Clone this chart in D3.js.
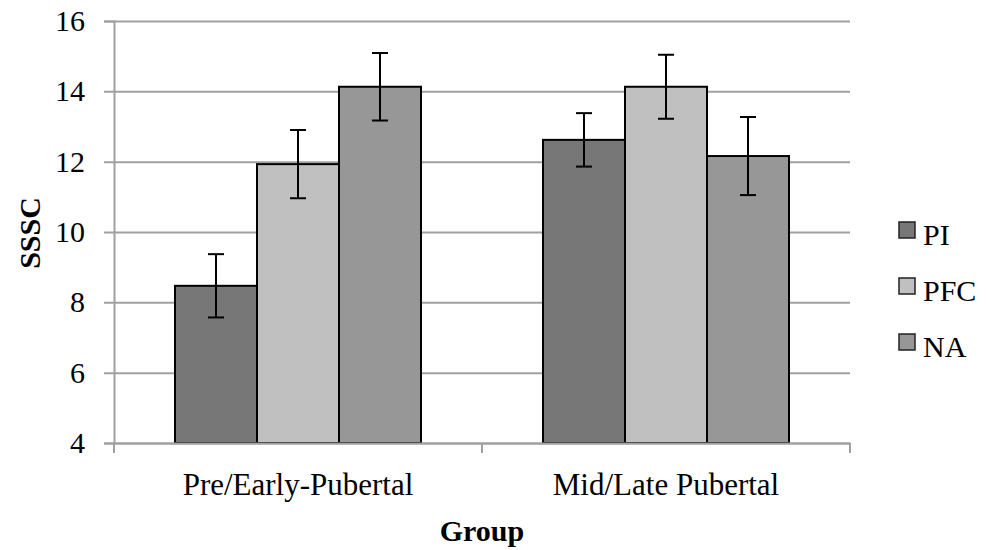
<!DOCTYPE html>
<html>
<head>
<meta charset="utf-8">
<script src="https://cdn.jsdelivr.net/npm/d3@7"></script>
<style>
  body { margin: 0; background: #fff; }
</style>
</head>
<body>
<svg id="chart" width="989" height="550"></svg>
<script>
// chart data
const groups = ['Pre/Early-Pubertal', 'Mid/Late Pubertal'];
const series = ['PI', 'PFC', 'NA'];
const colors = ['#777777', '#c0c0c0', '#979797'];
// mean values per group, in series order
const means = [
  [8.47, 11.93, 14.13],
  [12.62, 14.13, 12.16],
];
// error bar half-length per group
const errors = [
  [0.9, 0.97, 0.96],
  [0.76, 0.91, 1.11],
];
const yTicks = [4, 6, 8, 10, 12, 14, 16];

const FONT = '"Liberation Serif"';

const svg = d3.select('#chart');
const margin = { left: 114, right: 139, top: 21, bottom: 107 };
const width = 989 - margin.left - margin.right;
const height = 550 - margin.top - margin.bottom;

const g = svg.append('g').attr('transform', `translate(${margin.left},${margin.top})`);

const y = d3.scaleLinear().domain([4, 16]).range([height, 0]);
const x0 = d3.scaleBand().domain(groups).range([0, width]).padding(0);
const x1 = d3.scaleBand().domain(series).range([0, x0.bandwidth()])
  .paddingInner(0).paddingOuter(0.744);
const color = d3.scaleOrdinal().domain(series).range(colors);

// gridlines + y axis
const yAxis = g.append('g')
  .call(d3.axisLeft(y).tickValues(yTicks).tickSize(10).tickFormat(d3.format('d')));
yAxis.attr('font-family', null);
yAxis.select('.domain').attr('stroke', '#a0a0a0').attr('stroke-width', 2);
yAxis.selectAll('.tick line').attr('stroke', '#a0a0a0').attr('stroke-width', 2)
  .attr('x2', width).attr('x1', -10);
yAxis.selectAll('.tick text').attr('x', -29).attr('font-size', 30)
  .style('font-family', FONT).attr('fill', '#000');

// bars
const rows = [];
groups.forEach((grp, i) => {
  series.forEach((s, j) => {
    rows.push({ group: grp, key: s, value: means[i][j], err: errors[i][j] });
  });
});

const bars = g.append('g').selectAll('g')
  .data(rows)
  .join('g')
  .attr('transform', d => `translate(${x0(d.group) + x1(d.key)},0)`);

bars.append('rect')
  .attr('x', 0)
  .attr('y', d => y(d.value))
  .attr('width', x1.bandwidth())
  .attr('height', d => height - y(d.value))
  .attr('fill', d => color(d.key))
  .attr('stroke', '#000')
  .attr('stroke-width', 2);

// error bars
const cx = x1.bandwidth() / 2;
bars.append('line')
  .attr('x1', cx).attr('x2', cx)
  .attr('y1', d => y(d.value + d.err))
  .attr('y2', d => y(d.value - d.err))
  .attr('stroke', '#000').attr('stroke-width', 2);
bars.append('line')
  .attr('x1', cx - 8).attr('x2', cx + 8)
  .attr('y1', d => y(d.value + d.err)).attr('y2', d => y(d.value + d.err))
  .attr('stroke', '#000').attr('stroke-width', 2);
bars.append('line')
  .attr('x1', cx - 8).attr('x2', cx + 8)
  .attr('y1', d => y(d.value - d.err)).attr('y2', d => y(d.value - d.err))
  .attr('stroke', '#000').attr('stroke-width', 2);

// x axis
const xAxis = g.append('g')
  .attr('transform', `translate(0,${height})`)
  .call(d3.axisBottom(x0).tickSize(0).tickPadding(30));
xAxis.attr('font-family', null);
xAxis.select('.domain').attr('stroke', '#a0a0a0').attr('stroke-width', 2);
xAxis.selectAll('.tick text').attr('font-size', 31)
  .style('font-family', FONT).attr('fill', '#000');
// boundary ticks between categories
const bounds = [0, width / 2, width];
xAxis.selectAll('.bound')
  .data(bounds)
  .join('line')
  .attr('class', 'bound')
  .attr('x1', d => d).attr('x2', d => d)
  .attr('y1', 0).attr('y2', 10)
  .attr('stroke', '#a0a0a0').attr('stroke-width', 2);

// axis titles
svg.append('text')
  .attr('transform', 'translate(40,233) rotate(-90)')
  .attr('text-anchor', 'middle')
  .attr('font-size', 30)
  .attr('font-weight', 'bold')
  .style('font-family', FONT)
  .text('SSSC');

svg.append('text')
  .attr('x', margin.left + width / 2)
  .attr('y', 541)
  .attr('text-anchor', 'middle')
  .attr('font-size', 30)
  .attr('font-weight', 'bold')
  .style('font-family', FONT)
  .text('Group');

// legend
const legend = svg.append('g').attr('transform', 'translate(899,222)');
const item = legend.selectAll('g')
  .data(series)
  .join('g')
  .attr('transform', (d, i) => `translate(0,${i * 56})`);
item.append('rect')
  .attr('width', 16).attr('height', 16)
  .attr('fill', d => color(d))
  .attr('stroke', '#222').attr('stroke-width', 1.5);
item.append('text')
  .attr('x', 24).attr('y', 23)
  .attr('font-size', 30)
  .style('font-family', FONT)
  .text(d => d);
</script>
</body>
</html>
